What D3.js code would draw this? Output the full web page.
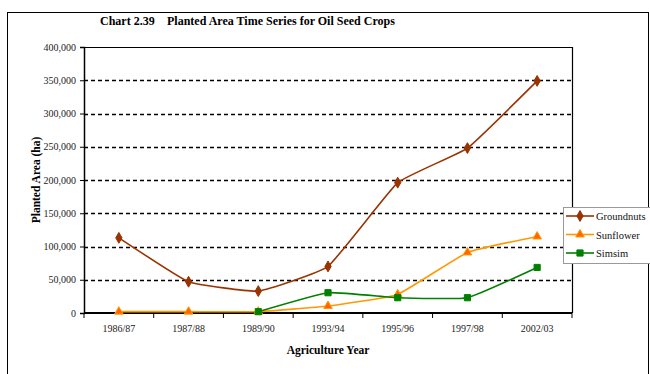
<!DOCTYPE html>
<html><head><meta charset="utf-8">
<script src="https://cdn.jsdelivr.net/npm/d3@7"></script>
<style>body{margin:0;background:#fff}svg{display:block}svg text{font-family:"Liberation Serif","Times New Roman",serif !important}</style>
</head><body>
<svg id="c" width="650" height="374"></svg>
<script>
const categories = ["1986/87","1987/88","1989/90","1993/94","1995/96","1997/98","2002/03"];
const groundnuts = [113000, 47000, 33000, 70000, 196000, 248000, 349000];
const sunflower  = [2000, 2000, 2000, 10500, 28000, 91000, 115000];
const simsim     = [null, null, 2000, 30500, 23000, 23000, 68500];
const yTicks = [0,50000,100000,150000,200000,250000,300000,350000,400000];
const seriesNames = ["Groundnuts","Sunflower","Simsim"];

const svg = d3.select("#c");
const L=84, R=572, T=47, B=313;
svg.append("rect").attr("x",7.5).attr("y",12.5).attr("width",641).attr("height",380).attr("fill","none").attr("stroke","#000").attr("stroke-width",1);

const x = d3.scaleBand().domain(categories).range([L,R]);
const y = d3.scaleLinear().domain([0,400000]).range([B,T]);

svg.append("g").selectAll("line").data(yTicks.filter(v=>v>0&&v<400000)).join("line")
  .attr("x1",L).attr("x2",R).attr("y1",d=>Math.round(y(d))+0.5).attr("y2",d=>Math.round(y(d))+0.5)
  .attr("stroke","#000").attr("stroke-width",1.3).attr("stroke-dasharray","4,3");
svg.append("path").attr("d",`M${L},${T+0.5}H${R+0.5}V${B}`).attr("fill","none").attr("stroke","#000").attr("stroke-width",1.2);

const yAx = svg.append("g").attr("transform",`translate(${L},0)`)
  .call(d3.axisLeft(y).tickValues(yTicks).tickSize(4).tickFormat(d3.format(",")));
yAx.attr("font-family",null);
yAx.select(".domain").attr("stroke-width",1.5);
yAx.selectAll("text").attr("font-size",10).attr("fill","#222").attr("dx",-1);

const xAx = svg.append("g").attr("transform",`translate(0,${B})`).call(d3.axisBottom(x).tickSize(0).tickPadding(12));
xAx.attr("font-family",null);
xAx.select(".domain").attr("stroke-width",2).attr("d",`M${L},0H${R}`);
xAx.selectAll("text").attr("font-size",10).attr("fill","#222");
svg.append("g").selectAll("line").data(d3.range(categories.length+1)).join("line")
  .attr("x1",i=>L+i*x.step()).attr("x2",i=>L+i*x.step()).attr("y1",B).attr("y2",B+5).attr("stroke","#000");

const cx = d => x(d)+x.bandwidth()/2;
const series = [
  {name:seriesNames[0], vals:groundnuts, line:"#993300", fill:"#993300", stroke:"#993300", shape:d3.symbolDiamond, size:34},
  {name:seriesNames[1], vals:sunflower, line:"#FF9900", fill:"#FF6600", stroke:"#FF9900", shape:d3.symbolTriangle, size:32},
  {name:seriesNames[2], vals:simsim, line:"#008000", fill:"#008000", stroke:"#008000", shape:d3.symbolSquare, size:38}
];
const line = d3.line().defined(d=>d.v!=null).x(d=>cx(d.c)).y(d=>y(d.v)).curve(d3.curveCardinal.tension(0.65));
series.forEach(s=>{
  const data = categories.map((c,i)=>({c, v:s.vals[i]}));
  svg.append("path").datum(data.filter(d=>d.v!=null)).attr("d",line).attr("fill","none").attr("stroke",s.line).attr("stroke-width",1.6);
  svg.append("g").selectAll("path").data(data.filter(d=>d.v!=null)).join("path")
    .attr("d",d3.symbol(s.shape,s.size)).attr("transform",d=>`translate(${cx(d.c)},${y(d.v)})`)
    .attr("fill",s.fill).attr("stroke",s.stroke).attr("stroke-width",1);
});

const lg = svg.append("g");
lg.append("rect").attr("x",563.5).attr("y",207.5).attr("width",100).attr("height",56).attr("fill","#fff").attr("stroke","#999");
series.forEach((s,i)=>{
  const yy = 216 + i*18.5;
  lg.append("line").attr("x1",566).attr("x2",594).attr("y1",yy).attr("y2",yy).attr("stroke",s.line).attr("stroke-width",1.6);
  lg.append("path").attr("d",d3.symbol(s.shape,s.size)).attr("transform",`translate(580,${yy})`).attr("fill",s.fill).attr("stroke",s.stroke);
  lg.append("text").attr("x",596).attr("y",yy+4).attr("font-size",10.5).attr("fill","#111").text(s.name);
});

svg.append("text").attr("x",100).attr("y",25).attr("font-size",12).attr("font-weight","bold").text("Chart 2.39");
svg.append("text").attr("x",167).attr("y",25).attr("font-size",12).attr("font-weight","bold").text("Planted Area Time Series for Oil Seed Crops");
svg.append("text").attr("x",(L+R)/2).attr("y",354).attr("text-anchor","middle").attr("font-size",11.5).attr("font-weight","bold").text("Agriculture Year");
svg.append("text").attr("transform",`translate(40,${(T+B)/2}) rotate(-90)`).attr("text-anchor","middle").attr("font-size",11.5).attr("font-weight","bold").text("Planted Area (ha)");
</script>
</body></html>
